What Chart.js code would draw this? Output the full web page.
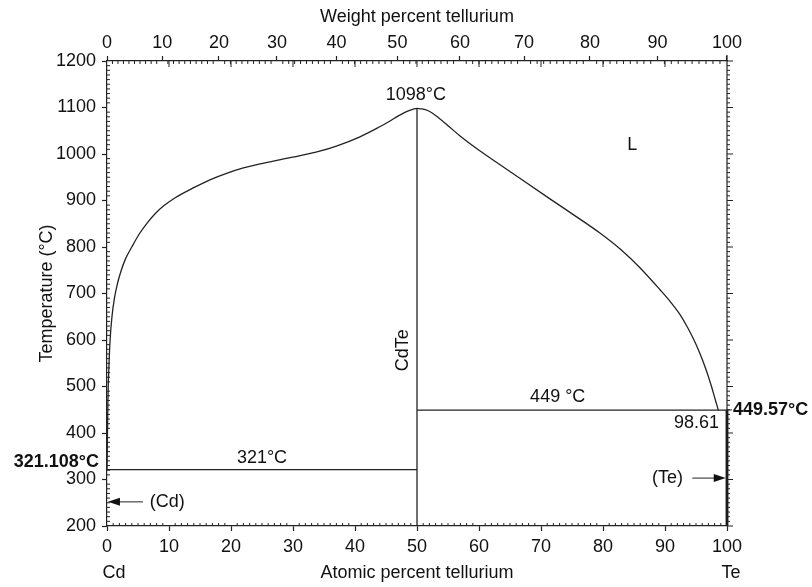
<!DOCTYPE html>
<html><head><meta charset="utf-8">
<script src="https://cdn.jsdelivr.net/npm/chart.js@4.4.0/dist/chart.umd.min.js"></script>
<style>html,body{margin:0;padding:0;background:#fff}canvas{display:block}</style>
</head><body>
<canvas id="c" width="812" height="587"></canvas>
<script>
// ---- data ----
const atomicTickValues = [0,10,20,30,40,50,60,70,80,90,100];
const weightTickLabels = [0,10,20,30,40,50,60,70,80,90,100];
const temperatureTickValues = [200,300,400,500,600,700,800,900,1000,1100,1200];
const massCd = 112.41, massTe = 127.60;

const liquidusCdX = [0, 0.15, 0.3, 0.5, 0.8, 1.2, 1.7, 2.3, 3.0, 4.0, 5.2, 6.5, 7.8, 9.2, 11, 13.9, 16.5, 19.4, 22, 24.7, 28, 31, 34, 37, 40.8, 43.5, 45.5, 47, 48.3, 49.3, 50];
const liquidusCdT = [321.1, 470, 540, 600, 650, 690, 722, 750, 775, 800, 828, 852, 872, 889, 906, 927, 944, 959, 970, 979, 988, 996, 1005, 1017, 1037, 1055, 1070, 1082, 1091, 1096, 1098];
const liquidusTeX = [50, 50.8, 51.8, 53, 55, 57, 60, 63.4, 67, 71.5, 75.5, 79.5, 83, 86, 89.2, 91, 92.4, 93.6, 94.6, 95.6, 96.6, 97.5, 98.1, 98.61];
const liquidusTeT = [1098, 1097, 1093, 1083, 1061, 1038, 1008, 977, 944, 903, 867, 830, 793, 755, 708, 680, 655, 628, 602, 572, 537, 500, 472, 449];
const cdEutecticX = [0, 50],   cdEutecticT = [321.108, 321.108];
const teEutecticX = [50, 100], teEutecticT = [449, 449];
const cdTeX = [50, 50],        cdTeT = [200, 1098];
const teSolidX = [100, 100],   teSolidT = [200, 449.57];

// ---- helpers ----
const INK = '#222';
const FONT = '"Liberation Sans", Arial, Helvetica, sans-serif';
const FS = 18;
const zip = (xs, ys) => xs.map((v, i) => ({x: v, y: ys[i]}));
const wtToAt = w => 100 * (w / massTe) / ((w / massTe) + ((100 - w) / massCd));

function ds(xs, ys, extra) {
  return Object.assign({
    data: zip(xs, ys), showLine: true, pointRadius: 0, borderColor: INK,
    borderWidth: 1.3, fill: false, cubicInterpolationMode: 'monotone'
  }, extra || {});
}

const annot = {
  id: 'annot',
  afterDraw(chart) {
    const {ctx, chartArea: a, scales} = chart;
    const x = scales.x, y = scales.y, xt = scales.xTop;
    const X = v => x.getPixelForValue(v), Y = v => y.getPixelForValue(v);
    ctx.save();
    ctx.strokeStyle = INK; ctx.lineWidth = 1;
    const seg = (x0, y0, x1, y1) => { ctx.beginPath(); ctx.moveTo(x0, y0); ctx.lineTo(x1, y1); ctx.stroke(); };
    // right frame
    ctx.lineWidth = 1.2;
    seg(a.right, a.top - 6, a.right, a.bottom);
    ctx.lineWidth = 1;
    // bottom minor ticks (inward)
    for (let v = 1; v < 100; v++) { if (v % 10) seg(X(v), a.bottom, X(v), a.bottom - 3); }
    // top: weight-percent minor ticks and atomic major ticks (inward)
    for (let w = 1; w < 100; w++) { if (w % 10) { const p = xt.getPixelForValue(wtToAt(w)); seg(p, a.top, p, a.top + 3); } }
    for (const v of atomicTickValues) { if (v > 0 && v < 100) seg(X(v), a.top, X(v), a.top + 6); }
    // left minor ticks (inward)
    for (let t = 210; t < 1200; t += 10) { if (t % 100) seg(a.left, Y(t), a.left + 3, Y(t)); }
    // right ticks (outward)
    for (let t = 200; t <= 1200; t += 10) { seg(a.right, Y(t), a.right + (t % 100 ? 3 : 6), Y(t)); }
    seg(a.right, Y(449.57), a.right + 5, Y(449.57));

    // arrows
    const arrow = (x0, x1, t) => {
      const py = Y(t), p0 = X(x0), p1 = X(x1), dir = Math.sign(p1 - p0);
      ctx.strokeStyle = '#555'; ctx.lineWidth = 1.3;
      seg(p0, py, p1 - dir * 8, py);
      ctx.fillStyle = '#111';
      ctx.beginPath(); ctx.moveTo(p1, py); ctx.lineTo(p1 - dir * 12, py - 4); ctx.lineTo(p1 - dir * 12, py + 4); ctx.closePath(); ctx.fill();
    };
    arrow(5.8, 0.15, 252);
    arrow(94.4, 99.8, 303);

    // text
    const txt = (s, px, py, align, bold) => {
      ctx.font = (bold ? 'bold ' : '') + FS + 'px ' + FONT;
      ctx.fillStyle = '#111'; ctx.textAlign = align || 'center'; ctx.textBaseline = 'middle';
      ctx.fillText(s, px, py);
    };
    txt('1098°C', X(49.8), Y(1127));
    txt('L', X(84.7), Y(1019));
    txt('321°C', X(25), Y(346));
    txt('449 °C', X(72.7), Y(477));
    txt('98.61', X(98.7), Y(421), 'right');
    txt('(Cd)', X(6.9), Y(252), 'left');
    txt('(Te)', X(92.9), Y(303), 'right');
    txt('321.108°C', a.left - 8, Y(321.108) - 8, 'right', true);
    txt('449.57°C', a.right + 6, Y(449.57), 'left', true);
    txt('Cd', X(0) + 7, 573);
    txt('Te', X(100) + 4, 573);
    txt('Atomic percent tellurium', X(50), 573);
    txt('Weight percent tellurium', X(50), 17);
    // rotated
    ctx.save(); ctx.translate(X(47.8), Y(578)); ctx.rotate(-Math.PI / 2); txt('CdTe', 0, 0); ctx.restore();
    ctx.save(); ctx.translate(47, (a.top + a.bottom) / 2); ctx.rotate(-Math.PI / 2); txt('Temperature (°C)', 0, 0); ctx.restore();
    ctx.restore();
  }
};

const tickFont = {family: FONT, size: FS};
new Chart(document.getElementById('c'), {
  type: 'scatter',
  data: {
    datasets: [
      ds(liquidusCdX, liquidusCdT),
      ds(liquidusTeX, liquidusTeT),
      ds(cdEutecticX, cdEutecticT, {cubicInterpolationMode: 'default', tension: 0}),
      ds(teEutecticX, teEutecticT, {cubicInterpolationMode: 'default', tension: 0}),
      ds(cdTeX, cdTeT, {cubicInterpolationMode: 'default', tension: 0}),
      ds(teSolidX, teSolidT, {cubicInterpolationMode: 'default', tension: 0, borderWidth: 2.8, clip: 6, borderColor: '#111'})
    ]
  },
  options: {
    responsive: false, animation: false, devicePixelRatio: 1,
    layout: {padding: {left: 0, right: 85, top: 0, bottom: 0}},
    plugins: {legend: {display: false}, tooltip: {enabled: false}},
    scales: {
      x: {
        type: 'linear', position: 'bottom', min: 0, max: 100,
        afterBuildTicks: s => { s.ticks = atomicTickValues.map(v => ({value: v})); },
        ticks: {font: tickFont, color: '#111', padding: 5, maxRotation: 0, autoSkip: false, callback: v => String(v)},
        grid: {drawOnChartArea: false, drawTicks: true, tickLength: 5, tickColor: INK, tickWidth: 1.2},
        border: {display: true, color: INK, width: 1.2},
        afterFit: s => { s.height = 61; }
      },
      xTop: {
        type: 'linear', position: 'top', min: 0, max: 100,
        afterBuildTicks: s => { s.ticks = weightTickLabels.map(w => ({value: wtToAt(w)})); },
        ticks: {font: tickFont, color: '#111', padding: 2, maxRotation: 0, autoSkip: false,
          callback: (v, i) => String(weightTickLabels[i])},
        grid: {drawOnChartArea: false, drawTicks: true, tickLength: 5, tickColor: INK, tickWidth: 1.2},
        border: {display: true, color: INK, width: 1.2},
        afterFit: s => { s.height = 61; }
      },
      y: {
        type: 'linear', position: 'left', min: 200, max: 1200,
        afterBuildTicks: s => { s.ticks = temperatureTickValues.map(v => ({value: v})); },
        ticks: {font: tickFont, color: '#111', padding: 6, autoSkip: false, callback: v => String(v)},
        grid: {drawOnChartArea: false, drawTicks: true, tickLength: 5, tickColor: INK, tickWidth: 1.2},
        border: {display: true, color: INK, width: 1.2},
        afterFit: s => { s.width = 107; }
      }
    }
  },
  plugins: [annot]
});
</script>
</body></html>
